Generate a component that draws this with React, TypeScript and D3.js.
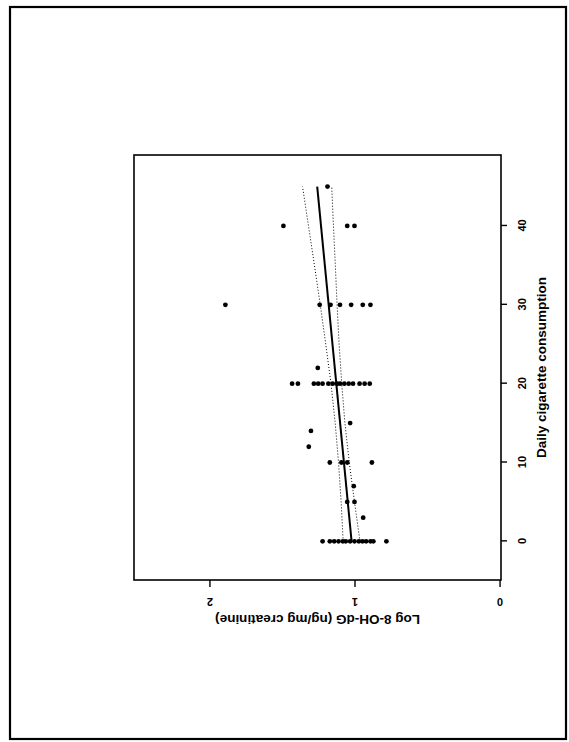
import React, { useEffect, useRef } from "react";
import * as d3 from "d3";

// cigarettes per day for each subject, and the matching log 8-OH-dG value
const cigarettes = [
  0, 0, 0, 0, 0, 0, 0, 0, 0, 0, 0, 0, 0, 0,
  3, 5, 5, 7,
  10, 10, 10, 10, 12, 14, 15,
  20, 20, 20, 20, 20, 20, 20, 20, 20, 20, 20, 20, 20, 20, 20,
  22,
  30, 30, 30, 30, 30, 30, 30,
  40, 40, 40,
  45,
];
const logOHdG = [
  1.22, 1.17, 1.14, 1.11, 1.08, 1.06, 1.03, 1.0, 0.97, 0.945, 0.92, 0.89, 0.87, 0.78,
  0.94, 1.05, 1.0, 1.005,
  1.17, 1.09, 1.05, 0.88, 1.315, 1.3, 1.03,
  1.43, 1.39, 1.28, 1.25, 1.22, 1.18, 1.15, 1.12, 1.1, 1.07, 1.04, 1.01, 0.965, 0.93, 0.895,
  1.253,
  1.89, 1.24, 1.165, 1.1, 1.023, 0.943, 0.89,
  1.49, 1.05, 1.0,
  1.186,
];

// fitted regression line and its confidence limits
const fitCig = [0, 45];
const fitValue = [1.02, 1.257];
const bandCig = [0, 5, 10, 15, 20, 25, 30, 35, 40, 45];
const bandUpper = [1.078, 1.092, 1.11, 1.133, 1.162, 1.198, 1.236, 1.276, 1.317, 1.358];
const bandLower = [0.962, 1.0, 1.036, 1.066, 1.088, 1.106, 1.12, 1.132, 1.145, 1.157];

const xTicks = [0, 10, 20, 30, 40];
const yTicks = [0, 1, 2];

const App = () => {
  const ref = useRef(null);

  useEffect(() => {
    const W = 425, // along the cigarette axis
      H = 367; // along the 8-OH-dG axis
    const font = "'Liberation Sans', Arial, sans-serif";

    const svg = d3.select(ref.current);
    svg.selectAll("*").remove();

    // outer page border
    svg
      .append("rect")
      .attr("x", 10)
      .attr("y", 7)
      .attr("width", 556)
      .attr("height", 732)
      .attr("fill", "none")
      .attr("stroke", "#000")
      .attr("stroke-width", 2.2);

    // the figure is printed turned a quarter turn counter-clockwise
    const g = svg.append("g").attr("transform", "translate(134,580) rotate(-90)");

    const x = d3.scaleLinear().domain([-4.9, 49]).range([0, W]);
    const y = d3.scaleLinear().domain([-0.01, 2.52]).range([H, 0]);

    // Add frame
    g.append("rect")
      .attr("width", W)
      .attr("height", H)
      .attr("fill", "none")
      .attr("stroke", "#000")
      .attr("stroke-width", 1.6);

    // Add X axis
    const xa = g
      .append("g")
      .attr("transform", "translate(0," + H + ")")
      .call(d3.axisBottom(x).tickValues(xTicks).tickSize(6).tickPadding(11));
    xa.select(".domain").remove();
    xa.selectAll("line").attr("stroke-width", 1.4);
    xa.selectAll("text")
      .attr("font-family", font)
      .attr("font-size", 11)
      .attr("font-weight", "bold");

    // Add Y axis
    const ya = g
      .append("g")
      .call(d3.axisLeft(y).tickValues(yTicks).tickSize(7).tickFormat(d3.format("d")));
    ya.select(".domain").remove();
    ya.selectAll("line").attr("stroke-width", 1.4);
    ya.selectAll("text")
      .attr("x", null)
      .attr("dy", "0.35em")
      .attr("text-anchor", "middle")
      .attr("transform", "translate(-22,0) rotate(-90)")
      .attr("font-family", font)
      .attr("font-size", 11)
      .attr("font-weight", "bold");

    // axis titles
    g.append("text")
      .attr("x", W / 2)
      .attr("y", H + 40)
      .attr("dy", "0.35em")
      .attr("text-anchor", "middle")
      .attr("font-family", font)
      .attr("font-size", 13.5)
      .attr("font-weight", "bold")
      .text("Daily cigarette consumption");
    g.append("text")
      .attr("transform", "translate(-40," + H / 2 + ") rotate(-90)")
      .attr("dy", "0.35em")
      .attr("text-anchor", "middle")
      .attr("font-family", font)
      .attr("font-size", 13.5)
      .attr("font-weight", "bold")
      .text("Log 8-OH-dG (ng/mg creatinine)");

    // confidence limits
    const band = d3
      .line()
      .x((d) => x(d[0]))
      .y((d) => y(d[1]));
    [bandUpper, bandLower].forEach((vals) => {
      g.append("path")
        .datum(bandCig.map((c, i) => [c, vals[i]]))
        .attr("d", band)
        .attr("fill", "none")
        .attr("stroke", "#000")
        .attr("stroke-width", 1)
        .attr("stroke-dasharray", "1,2");
    });

    // regression line
    g.append("path")
      .datum(fitCig.map((c, i) => [c, fitValue[i]]))
      .attr("d", band)
      .attr("fill", "none")
      .attr("stroke", "#000")
      .attr("stroke-width", 2);

    // Add points
    g.selectAll("circle")
      .data(cigarettes)
      .enter()
      .append("circle")
      .attr("cx", (d) => x(d))
      .attr("cy", (d, i) => y(logOHdG[i]))
      .attr("r", 2.4)
      .attr("fill", "#000");
  }, []);

  return (
    <svg
      ref={ref}
      width={569}
      height={742}
      style={{ position: "absolute", left: 0, top: 0, background: "#fff" }}
    />
  );
};

export default App;
